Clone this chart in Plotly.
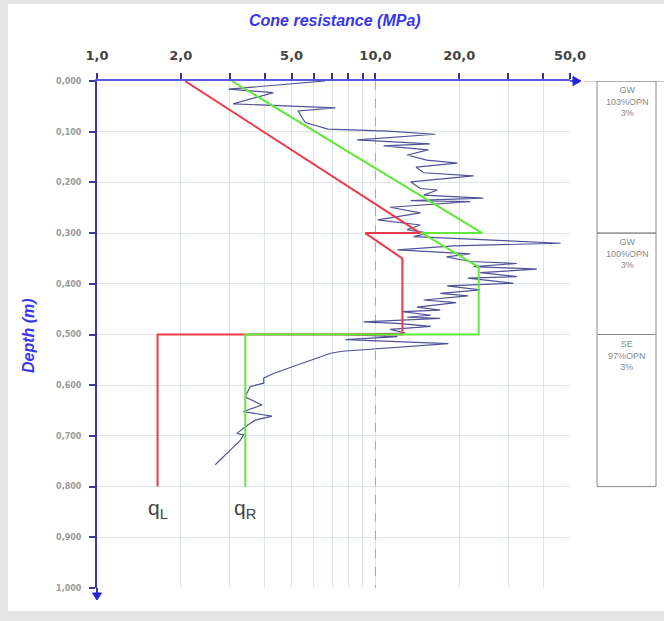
import math
import plotly.graph_objects as go

# ---------------- data ----------------
cpt_depth = [0.000, 0.016, 0.023, 0.045, 0.053, 0.059, 0.072, 0.082, 0.095, 0.099,
             0.105, 0.116, 0.124, 0.128, 0.136, 0.146, 0.156, 0.162, 0.170, 0.181,
             0.187, 0.199, 0.212, 0.215, 0.225, 0.231, 0.236, 0.238, 0.249, 0.260,
             0.274, 0.284, 0.293, 0.300, 0.307, 0.320, 0.325, 0.333, 0.341, 0.347,
             0.356, 0.360, 0.366, 0.371, 0.378, 0.386, 0.389, 0.399, 0.404, 0.412,
             0.419, 0.424, 0.432, 0.437, 0.446, 0.452, 0.455, 0.462, 0.466, 0.468,
             0.475, 0.478, 0.484, 0.490, 0.497, 0.500, 0.504, 0.510, 0.518, 0.529,
             0.533, 0.537, 0.549, 0.564, 0.577, 0.586, 0.596, 0.603, 0.623, 0.639,
             0.652, 0.661, 0.669, 0.680, 0.695, 0.698, 0.709, 0.728, 0.757]
cpt_value = [6.6, 2.97, 4.3, 3.08, 7.18, 5.28, 5.45, 5.6, 6.76, 11.1,
             16.4, 8.6, 15.7, 10.7, 15.5, 13.0, 15.3, 19.7, 14.0, 14.9,
             22.5, 13.4, 14.5, 16.7, 14.9, 24.4, 13.4, 21.9, 11.3, 14.5,
             10.2, 14.5, 13.0, 15.5, 13.7, 46.3, 19.1, 12.0, 21.9, 18.0,
             21.9, 32.2, 22.5, 38.0, 23.8, 32.2, 21.5, 31.3, 18.1, 23.8,
             17.1, 21.5, 14.9, 19.5, 14.1, 17.1, 12.5, 15.8, 13.0, 17.1,
             9.06, 12.0, 15.8, 11.3, 12.8, 7.5, 12.0, 7.8, 18.3, 9.0,
             7.6, 6.9, 6.0, 4.95, 4.3, 3.97, 3.97, 3.55, 3.4, 3.91,
             3.36, 4.25, 3.7, 3.45, 3.18, 3.36, 3.27, 3.01, 2.66]

qL_depth = [0.0, 0.3, 0.3, 0.35, 0.5, 0.5, 0.8]
qL_value = [2.07, 14.5, 9.2, 12.5, 12.5, 1.65, 1.65]
qR_depth = [0.0, 0.3, 0.3, 0.367, 0.5, 0.5, 0.8]
qR_value = [3.05, 24.2, 14.7, 23.5, 23.5, 3.41, 3.41]

x_tick_vals = [1, 2, 5, 10, 20, 50]
x_tick_text = ["1,0", "2,0", "5,0", "10,0", "20,0", "50,0"]
x_minor_vals = [3, 4, 6, 7, 8, 9, 30, 40]
y_tick_vals = [0.0, 0.1, 0.2, 0.3, 0.4, 0.5, 0.6, 0.7, 0.8, 0.9, 1.0]
y_tick_text = ["0,000", "0,100", "0,200", "0,300", "0,400", "0,500",
               "0,600", "0,700", "0,800", "0,900", "1,000"]

layer_top = [0.0, 0.3, 0.5]
layer_bottom = [0.3, 0.5, 0.8]
layer_text = ["GW<br>103%OPN<br>3%", "GW<br>100%OPN<br>3%", "SE<br>97%OPN<br>3%"]

ref_value = 10
label_qL = {"value": 1.65, "depth": 0.845, "text": "q<sub>L</sub>"}
label_qR = {"value": 3.41, "depth": 0.845, "text": "q<sub>R</sub>"}

# ---------------- figure ----------------
W, H = 664, 621
L, R, T, B = 97, 94, 81, 33
pw, ph = W - L - R, H - T - B


def px(xp):
    return (xp - L) / pw


def py(yp):
    return (H - B - yp) / ph


fig = go.Figure()

fig.add_trace(go.Scatter(x=[ref_value, ref_value], y=[0, 1], mode="lines",
                         line=dict(color="#a8a8a8", width=1, dash="dash"),
                         showlegend=False, hoverinfo="skip"))
fig.add_trace(go.Scatter(x=cpt_value, y=cpt_depth, mode="lines",
                         line=dict(color="#50529a", width=1.2),
                         showlegend=False))
fig.add_trace(go.Scatter(x=qL_value, y=qL_depth, mode="lines",
                         line=dict(color="#ec3a4a", width=2),
                         showlegend=False))
fig.add_trace(go.Scatter(x=qR_value, y=qR_depth, mode="lines",
                         line=dict(color="#62e83a", width=2),
                         showlegend=False))

shapes = []
# white inner panel on grey page
shapes.append(dict(type="rect", xref="paper", yref="paper", layer="below",
                   x0=px(8), x1=px(664), y0=py(611), y1=py(4),
                   fillcolor="white", line=dict(width=0)))
# axis extensions and arrowheads
shapes.append(dict(type="line", xref="paper", yref="paper",
                   x0=1.0, x1=px(576), y0=1, y1=1,
                   line=dict(color="#5a5ae0", width=2)))
shapes.append(dict(type="path", xref="paper", yref="paper",
                   path=f"M {px(573)} {py(76.5)} L {px(581)} {py(81)} L {px(573)} {py(85.5)} Z",
                   fillcolor="#2222dd", line=dict(color="#2222dd", width=1)))
shapes.append(dict(type="line", xref="paper", yref="paper",
                   x0=0, x1=0, y0=0, y1=py(595),
                   line=dict(color="#3a3a99", width=2)))
shapes.append(dict(type="path", xref="paper", yref="paper",
                   path=f"M {px(92.5)} {py(593)} L {px(101.5)} {py(593)} L {px(97)} {py(600)} Z",
                   fillcolor="#2222dd", line=dict(color="#2222dd", width=1)))
# soil layer boxes
shapes.append(dict(type="line", xref="paper", yref="y",
                   x0=px(585), x1=px(664), y0=0, y1=0,
                   line=dict(color="#999999", width=1)))
for t, b in zip(layer_top, layer_bottom):
    shapes.append(dict(type="rect", xref="paper", yref="y",
                       x0=px(597), x1=px(656), y0=t, y1=b,
                       line=dict(color="#8a8a8a", width=1), fillcolor="rgba(0,0,0,0)"))

annotations = []
annotations.append(dict(text="<b><i>Cone resistance (MPa)</i></b>", xref="paper", yref="paper",
                        x=px(335), y=py(20), showarrow=False, xanchor="center", yanchor="middle",
                        font=dict(family="Liberation Sans, Arial", size=16, color="#3636ee")))
annotations.append(dict(text="<b><i>Depth (m)</i></b>", xref="paper", yref="paper",
                        x=px(28), y=py(336), showarrow=False, textangle=-90,
                        xanchor="center", yanchor="middle",
                        font=dict(family="Liberation Sans, Arial", size=16, color="#3636ee")))
for t, txt in zip(layer_top, layer_text):
    annotations.append(dict(text=txt, xref="paper", yref="y", x=px(627), y=t,
                            xanchor="center", yanchor="top", yshift=-2,
                            showarrow=False, align="center",
                            font=dict(family="Liberation Sans, Arial", size=9, color="#8a8a8a")))
for lab in (label_qL, label_qR):
    annotations.append(dict(text=lab["text"], xref="x", yref="y",
                            x=math.log10(lab["value"]), y=lab["depth"], showarrow=False,
                            xanchor="center", yanchor="middle",
                            font=dict(family="Liberation Sans, Arial", size=21, color="#444444")))

fig.update_layout(
    width=W, height=H,
    margin=dict(l=L, r=R, t=T, b=B, pad=0),
    paper_bgcolor="#e4e4e4",
    plot_bgcolor="white",
    shapes=shapes,
    annotations=annotations,
    showlegend=False,
)
fig.update_xaxes(type="log", side="top", range=[0, math.log10(50)],
                 tickvals=x_tick_vals, ticktext=x_tick_text,
                 ticks="outside", ticklen=6, tickwidth=1.5, tickcolor="#333399",
                 minor=dict(tickvals=x_minor_vals, ticks="outside", ticklen=6,
                            tickwidth=1.5, tickcolor="#333399",
                            showgrid=True, gridcolor="#dbe6e6", gridwidth=1),
                 showline=True, linecolor="#5a5ae0", linewidth=2,
                 showgrid=True, gridcolor="#dbe6e6", gridwidth=1,
                 zeroline=False, ticklabelstandoff=8,
                 tickfont=dict(family="DejaVu Sans", size=13, color="#444444", weight="bold"))
fig.update_yaxes(range=[1, 0], tickvals=y_tick_vals, ticktext=y_tick_text,
                 ticks="outside", ticklen=6, tickwidth=1.5, tickcolor="#3a3a99",
                 showline=True, linecolor="#3a3a99", linewidth=2,
                 showgrid=True, gridcolor="#dbe6e6", gridwidth=1,
                 zeroline=False, ticklabelstandoff=6,
                 tickfont=dict(family="DejaVu Sans", size=8, color="#9a9a9a", weight="bold"))

fig.write_html("out.html", config={"displayModeBar": False},
               post_script="document.body.style.margin='0';document.body.style.padding='0';")
